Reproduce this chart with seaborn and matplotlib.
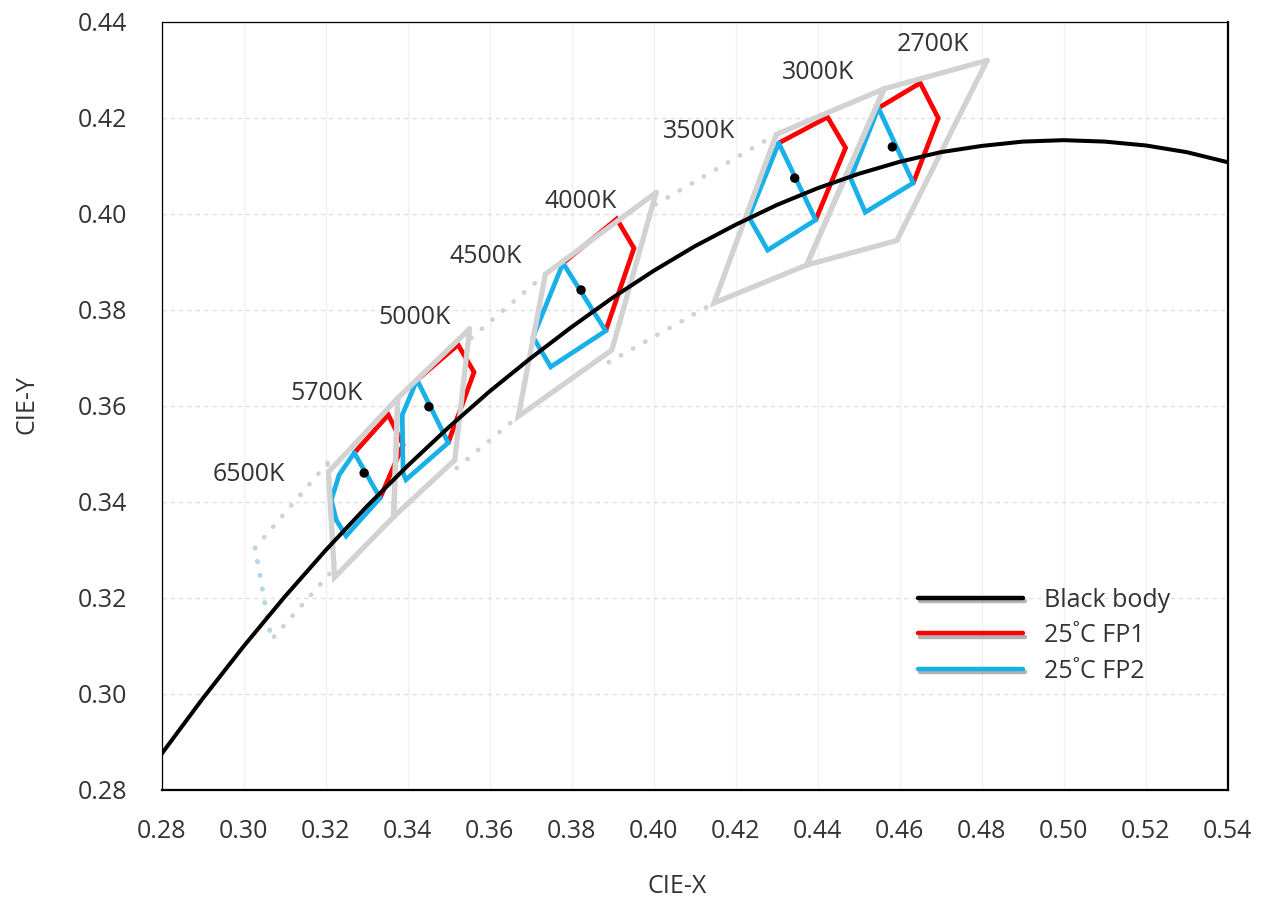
import matplotlib
matplotlib.use('Agg')
import matplotlib.pyplot as plt
import matplotlib.patheffects as pe
from matplotlib.lines import Line2D
import seaborn as sns

# black body (Planckian) locus
bb_x = [0.28, 0.29, 0.30, 0.31, 0.32, 0.33, 0.34, 0.35, 0.36, 0.37, 0.38, 0.39, 0.40,
        0.41, 0.42, 0.43, 0.44, 0.45, 0.46, 0.47, 0.48, 0.49, 0.50, 0.51, 0.52, 0.53, 0.54]
bb_y = [0.2875, 0.2990, 0.3099, 0.3202, 0.3299, 0.3390, 0.3475, 0.3555, 0.3630, 0.3699,
        0.3764, 0.3825, 0.3881, 0.3932, 0.3977, 0.4018, 0.4053, 0.4083, 0.4108, 0.4128,
        0.4141, 0.4150, 0.4153, 0.4150, 0.4142, 0.4128, 0.4107]

# ANSI quadrangles (grey)
q2700_x = [0.4813, 0.4562, 0.4373, 0.4593]
q2700_y = [0.4319, 0.4260, 0.3893, 0.3944]
q3000_x = [0.4562, 0.4299, 0.4147, 0.4373]
q3000_y = [0.4260, 0.4165, 0.3814, 0.3893]
q3500_x = [0.4299, 0.3996, 0.3889, 0.4147]
q3500_y = [0.4165, 0.4015, 0.3690, 0.3814]
q4000_x = [0.4006, 0.3736, 0.3670, 0.3898]
q4000_y = [0.4044, 0.3874, 0.3578, 0.3716]
q4500_x = [0.3736, 0.3548, 0.3512, 0.3670]
q4500_y = [0.3874, 0.3736, 0.3465, 0.3578]
q5000_x = [0.3551, 0.3376, 0.3366, 0.3515]
q5000_y = [0.3760, 0.3616, 0.3369, 0.3487]
q5700_x = [0.3376, 0.3207, 0.3222, 0.3366]
q5700_y = [0.3616, 0.3462, 0.3243, 0.3369]
q6500_x = [0.3205, 0.3028, 0.3068, 0.3221]
q6500_y = [0.3481, 0.3304, 0.3113, 0.3261]

# FP1 (red) outlines
fp1_2700_x = [0.4548, 0.4650, 0.4694, 0.4633]
fp1_2700_y = [0.4220, 0.4272, 0.4199, 0.4064]
fp1_3000_x = [0.4305, 0.4424, 0.4468, 0.4395]
fp1_3000_y = [0.4147, 0.4201, 0.4137, 0.3987]
fp1_4000_x = [0.3779, 0.3910, 0.3952, 0.3883]
fp1_4000_y = [0.3897, 0.3989, 0.3928, 0.3756]
fp1_5000_x = [0.3423, 0.3523, 0.3562, 0.3499]
fp1_5000_y = [0.3654, 0.3727, 0.3670, 0.3523]
fp1_5700_x = [0.3270, 0.3353, 0.3389, 0.3333]
fp1_5700_y = [0.3502, 0.3581, 0.3519, 0.3408]

# FP2 (blue) outlines
fp2_2700_x = [0.4548, 0.4480, 0.4516, 0.4633, 0.4548]
fp2_2700_y = [0.4220, 0.4074, 0.4003, 0.4064, 0.4220]
fp2_3000_x = [0.4305, 0.4232, 0.4278, 0.4395, 0.4305]
fp2_3000_y = [0.4147, 0.3993, 0.3924, 0.3987, 0.4147]
fp2_4000_x = [0.3779, 0.3706, 0.3749, 0.3883, 0.3779]
fp2_4000_y = [0.3897, 0.3743, 0.3681, 0.3756, 0.3897]
fp2_5000_x = [0.3423, 0.3387, 0.3389, 0.3396, 0.3499, 0.3423]
fp2_5000_y = [0.3654, 0.3581, 0.3460, 0.3446, 0.3523, 0.3654]
fp2_5700_x = [0.3270, 0.3233, 0.3214, 0.3226, 0.3250, 0.3333, 0.3270]
fp2_5700_y = [0.3502, 0.3456, 0.3404, 0.3362, 0.3329, 0.3408, 0.3502]

# centre points
dot_x = [0.4582, 0.4344, 0.3823, 0.3452, 0.3294]
dot_y = [0.4139, 0.4074, 0.3841, 0.3598, 0.3460]

cct_labels = ['2700K', '3000K', '3500K', '4000K', '4500K', '5000K', '5700K', '6500K']
label_x = [0.4680, 0.4402, 0.4110, 0.3823, 0.3591, 0.3416, 0.3202, 0.3012]
label_y = [0.4353, 0.4293, 0.4172, 0.4026, 0.3910, 0.3783, 0.3625, 0.3457]

x_ticks = [0.28, 0.30, 0.32, 0.34, 0.36, 0.38, 0.40, 0.42, 0.44, 0.46, 0.48, 0.50, 0.52, 0.54]
y_ticks = [0.28, 0.30, 0.32, 0.34, 0.36, 0.38, 0.40, 0.42, 0.44]

GREY = '#d2d2d2'
RED = '#ff0000'
BLUE = '#18b0e8'
TXT = '#333333'

sns.set_theme(style='white')
plt.rcParams['font.family'] = ['Open Sans', 'DejaVu Sans']

fig, ax = plt.subplots(figsize=(12.73, 9.01), dpi=100)
fig.subplots_adjust(left=0.1269, right=0.9645, bottom=0.1232, top=0.9761)


def closed(xs, ys):
    return list(xs) + [xs[0]], list(ys) + [ys[0]]


def draw(xs, ys, color, lw, ls='-', z=2):
    sns.lineplot(x=xs, y=ys, sort=False, estimator=None, color=color, lw=lw,
                 linestyle=ls, dash_capstyle='round', solid_joinstyle='miter',
                 ax=ax, zorder=z)


# red then blue
for xs, ys in [(fp1_2700_x, fp1_2700_y), (fp1_3000_x, fp1_3000_y), (fp1_4000_x, fp1_4000_y),
               (fp1_5000_x, fp1_5000_y), (fp1_5700_x, fp1_5700_y)]:
    draw(xs, ys, RED, 3.4, z=2)
for xs, ys in [(fp2_2700_x, fp2_2700_y), (fp2_3000_x, fp2_3000_y), (fp2_4000_x, fp2_4000_y),
               (fp2_5000_x, fp2_5000_y), (fp2_5700_x, fp2_5700_y)]:
    draw(xs, ys, BLUE, 3.4, z=3)

# dotted quadrangles
dots = (0, (0.05, 2.9))
for xs, ys in [(q3500_x, q3500_y), (q4500_x, q4500_y), (q6500_x, q6500_y)]:
    cx, cy = closed(xs, ys)
    draw(cx, cy, GREY, 3.4, ls=dots, z=4)
draw(q6500_x[1:3], q6500_y[1:3], '#b4d8e8', 3.4, ls=dots, z=4)

# solid quadrangles
for xs, ys in [(q2700_x, q2700_y), (q3000_x, q3000_y), (q4000_x, q4000_y),
               (q5000_x, q5000_y), (q5700_x, q5700_y)]:
    cx, cy = closed(xs, ys)
    draw(cx, cy, GREY, 3.8, z=5)

# black body curve
sns.lineplot(x=bb_x, y=bb_y, sort=False, estimator=None, color='black', lw=2.9, ax=ax, zorder=6)
sns.scatterplot(x=dot_x, y=dot_y, color='black', s=46, edgecolor='none', ax=ax, zorder=7)

for t, lx, ly in zip(cct_labels, label_x, label_y):
    ax.text(lx, ly, t, ha='center', va='center', fontsize=18, color=TXT)

ax.set_xlim(0.28, 0.54)
ax.set_ylim(0.28, 0.44)
ax.set_xticks(x_ticks)
ax.set_yticks(y_ticks)
ax.set_xticklabels([f'{v:.2f}' for v in x_ticks])
ax.set_yticklabels([f'{v:.2f}' for v in y_ticks])
ax.tick_params(axis='both', direction='in', length=6.5, width=1.5, color='black',
               labelsize=18, labelcolor=TXT)
ax.tick_params(axis='y', pad=25)
ax.tick_params(axis='x', pad=21)
ax.xaxis.grid(True, color='#eef0f2', lw=1)
ax.yaxis.grid(True, color='#e2dde2', lw=1, ls=(0, (3, 3)))
ax.set_axisbelow(True)

for side in ['left', 'top']:
    ax.spines[side].set_linewidth(0.9)
for side in ['bottom', 'right']:
    ax.spines[side].set_linewidth(1.6)
for side in ax.spines:
    ax.spines[side].set_color('black')

ax.set_xlabel('CIE-X', fontsize=18, color=TXT)
ax.set_ylabel('CIE-Y', fontsize=18, color=TXT)
ax.xaxis.label.set_va('center')
ax.yaxis.label.set_va('center')
ax.xaxis.set_label_coords(0.4835, -0.1255)
ax.yaxis.set_label_coords(-0.126, 0.501)

shadow = [pe.SimpleLineShadow(offset=(1.5, -2.5), shadow_color='#808080', alpha=0.6), pe.Normal()]
handles = [Line2D([], [], color='black', lw=3.2, path_effects=shadow),
           Line2D([], [], color=RED, lw=3.2, path_effects=shadow),
           Line2D([], [], color=BLUE, lw=3.2, path_effects=shadow)]
ax.legend(handles, ['Black body', '25˚C FP1', '25˚C FP2'], loc='upper left',
          bbox_to_anchor=(0.7095, 0.2635), frameon=False, fontsize=18, labelcolor=TXT,
          handlelength=4.2, handletextpad=0.85, labelspacing=0.42,
          borderpad=0, borderaxespad=0)

fig.savefig('out.png', dpi=100)
